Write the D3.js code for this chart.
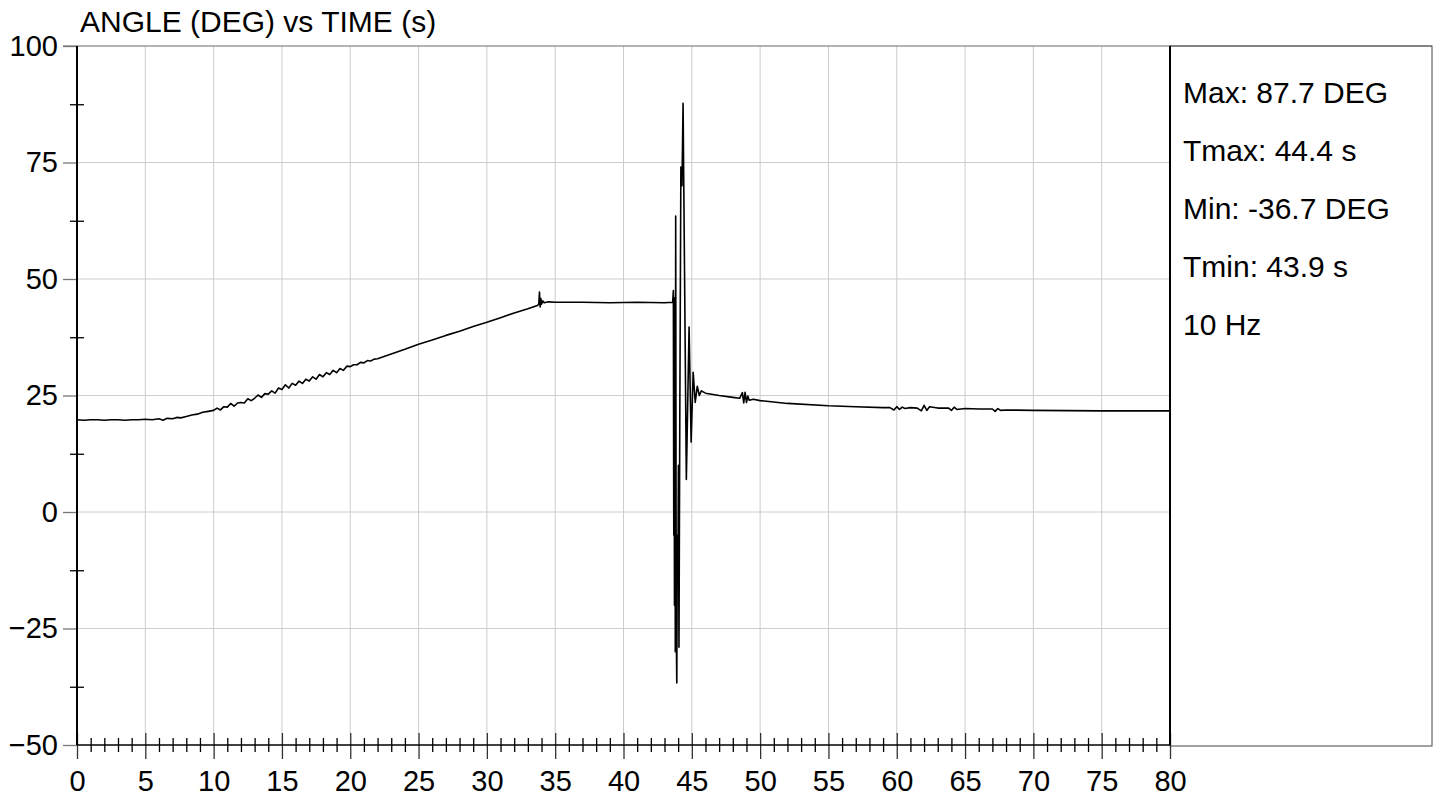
<!DOCTYPE html>
<html><head><meta charset="utf-8">
<script src="https://cdn.jsdelivr.net/npm/d3@7/dist/d3.min.js"></script>
<style>body{margin:0;background:#fff;}svg{display:block;font-family:"Liberation Sans",Arial,sans-serif;}</style>
</head><body><svg id="c" width="1437" height="797"></svg>
<script>
const titleText = "ANGLE (DEG) vs TIME (s)";
const xMajorTicks = [0,5,10,15,20,25,30,35,40,45,50,55,60,65,70,75,80];
const yMajorTicks = [-50,-25,0,25,50,75,100];
const statLines = ["Max: 87.7 DEG","Tmax: 44.4 s","Min: -36.7 DEG","Tmin: 43.9 s","10 Hz"];

// time (s) and angle (deg)
const timeS = [
 0,0.5,1,1.5,2,2.5,3,3.5,4,4.5,5,5.5,6,6.3,6.6,7,7.3,7.6,8,8.4,8.8,9.2,9.6,
 10,10.25,10.5,10.75,11,11.25,11.5,11.75,12,12.25,12.5,12.75,13,13.25,13.5,13.75,
 14,14.25,14.5,14.75,15,15.25,15.5,15.75,16,16.25,16.5,16.75,17,17.25,17.5,17.75,
 18,18.25,18.5,18.75,19,19.25,19.5,19.75,20,20.25,20.5,20.75,21,21.25,21.5,21.75,22,
 23,24,25,26,27,28,29,30,31,32,33,33.7,33.8,33.85,33.9,33.95,34,34.1,34.2,34.5,35,37,39,41,43,43.6,
 43.65,43.68,43.7,43.73,43.76,43.79,43.82,43.86,43.9,43.94,43.98,44.02,44.06,44.12,44.2,44.28,44.36,
 44.6,44.8,44.95,45.1,45.25,45.4,45.55,45.7,46,47,48,48.5,48.7,48.8,48.9,49,49.1,49.2,49.5,50,52,55,57,59,
 59.5,59.8,60,60.2,60.4,60.6,61,61.5,61.8,62,62.2,62.4,63,63.8,64,64.2,64.4,65,66,67,67.2,67.4,67.6,
 68,70,75,80];
const angleDeg = [
 19.8,19.7,19.8,19.8,19.7,19.8,19.8,19.7,19.8,19.8,19.9,19.8,20.0,19.7,20.1,20.0,20.3,20.2,20.5,20.8,21.0,21.4,21.6,
 21.8,22.3,21.9,22.6,22.5,23.3,22.7,23.4,23.5,23.4,24.3,23.9,24.4,25.1,24.6,25.4,
 25.3,26.0,25.5,26.6,26.3,27.3,26.6,27.6,27.2,28.1,27.6,28.5,28.1,29.0,28.5,29.5,
 29.0,29.9,29.5,30.4,29.9,30.8,30.4,31.3,31.2,31.6,31.6,32.1,32.0,32.5,32.4,32.8,32.9,
 33.9,34.9,36.0,36.9,37.9,38.8,39.8,40.7,41.7,42.7,43.6,44.3,44.6,47.2,44.0,45.8,44.6,45.3,44.9,45.1,45.0,45.0,44.9,45.0,44.9,45.0,
 47.5,-5,46,-20,45,-30,63.5,-25,-36.7,-5,-14,10,-29,20,74,70,87.7,
 7,39.7,15,30,23.5,27,25,26,25.5,25.0,24.6,24.4,25.6,23.4,25.7,23.5,24.9,24.0,24.2,23.9,23.3,22.8,22.6,22.4,
 22.4,21.9,22.6,22.0,22.5,22.2,22.4,22.3,21.7,22.9,21.8,22.6,22.3,22.3,21.8,22.5,22.0,22.2,22.1,22.1,21.6,22.2,21.8,
 21.9,21.8,21.7,21.7];

const svg = d3.select("#c");
const L=77, R=1170, T=46, B=745;
const x = d3.scaleLinear().domain([0,80]).range([L,R]);
const y = d3.scaleLinear().domain([-50,100]).range([B,T]);
const FONT = "Liberation Sans, Arial, sans-serif";

// grid
const g = svg.append("g");
g.selectAll(".vg").data(xMajorTicks.filter(d=>d>0&&d<80)).join("line")
 .attr("x1",d=>x(d)).attr("x2",d=>x(d)).attr("y1",T).attr("y2",B)
 .attr("stroke","#cccccc").attr("stroke-width",1);
g.selectAll(".hg").data(yMajorTicks.filter(d=>d>-50&&d<100)).join("line")
 .attr("x1",L).attr("x2",R).attr("y1",d=>y(d)).attr("y2",d=>y(d))
 .attr("stroke","#cccccc").attr("stroke-width",1);

// legend box
svg.append("rect").attr("x",R).attr("y",T).attr("width",1432-R).attr("height",B-T+1)
 .attr("fill","none").attr("stroke","#444").attr("stroke-width",1);
svg.append("line").attr("x1",63).attr("x2",1432).attr("y1",T).attr("y2",T).attr("stroke","#666");

// trace
const pts = timeS.map((t,i)=>[t,angleDeg[i]]);
svg.append("path").datum(pts)
 .attr("d",d3.line().x(d=>x(d[0])).y(d=>y(d[1])))
 .attr("fill","none").attr("stroke","#000").attr("stroke-width",1.6).attr("stroke-linejoin","round");

// x axis: minor ticks crossing
const xMinor = d3.range(0,81,1).filter(v=>v%5!==0);
const xa = svg.append("g").attr("transform",`translate(0,${B})`)
 .call(d3.axisBottom(x).tickValues(xMinor).tickSize(7).tickFormat(""));
xa.select(".domain").remove();
xa.selectAll(".tick line").attr("y1",-7).attr("y2",7).attr("stroke","#000").attr("stroke-width",1.3);
const xb = svg.append("g").attr("transform",`translate(0,${B})`)
 .call(d3.axisBottom(x).tickValues(xMajorTicks).tickSize(14).tickPadding(11).tickFormat(d3.format("d")));
xb.select(".domain").remove();
xb.selectAll(".tick line").attr("y1",-12).attr("y2",14).attr("stroke","#333").attr("stroke-width",1.3);
xb.selectAll(".tick text").attr("font-size",29).attr("fill","#000").attr("font-family",FONT);

// y axis
const yMinor = [-37.5,-12.5,12.5,37.5,62.5,87.5];
const ya = svg.append("g").attr("transform",`translate(${L},0)`)
 .call(d3.axisLeft(y).tickValues(yMinor).tickSize(7).tickFormat(""));
ya.select(".domain").remove();
ya.selectAll(".tick line").attr("x1",-7).attr("x2",7).attr("stroke","#000").attr("stroke-width",1.3);
const yb = svg.append("g").attr("transform",`translate(${L},0)`)
 .call(d3.axisLeft(y).tickValues(yMajorTicks).tickSize(14).tickPadding(5).tickFormat(d3.format("d")));
yb.select(".domain").remove();
yb.selectAll(".tick line").attr("stroke","#777").attr("stroke-width",1.3);
yb.selectAll(".tick text").attr("font-size",29).attr("fill","#000").attr("font-family",FONT);

// axis lines
svg.append("line").attr("x1",L).attr("x2",L).attr("y1",T).attr("y2",B).attr("stroke","#000").attr("stroke-width",2);
svg.append("line").attr("x1",L).attr("x2",R).attr("y1",B).attr("y2",B).attr("stroke","#000").attr("stroke-width",1.5);
svg.append("line").attr("x1",R).attr("x2",R).attr("y1",T).attr("y2",B).attr("stroke","#000").attr("stroke-width",2);

// title
svg.append("text").attr("x",80).attr("y",32).attr("font-size",30).attr("fill","#000").text(titleText);

// stats
svg.append("g").selectAll("text").data(statLines).join("text")
 .attr("x",1183).attr("y",(d,i)=>103+i*58).attr("font-size",30).attr("fill","#000").text(d=>d);
</script></body></html>
